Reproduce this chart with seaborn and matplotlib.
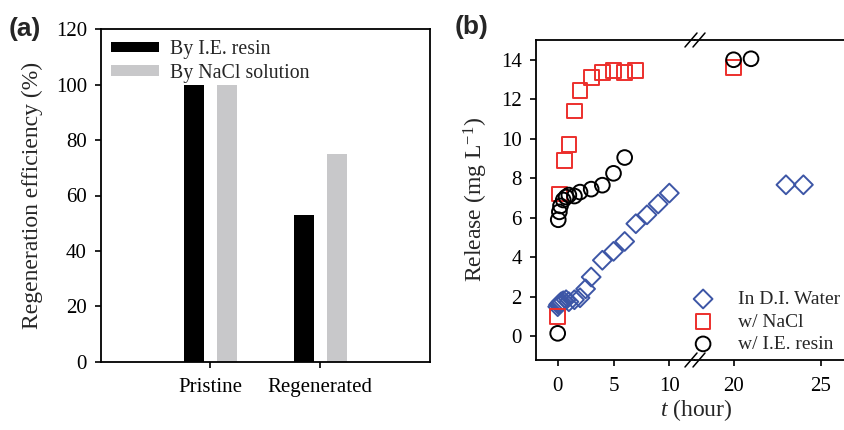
import pandas as pd
import seaborn as sns
import matplotlib.pyplot as plt
from matplotlib.lines import Line2D

# Panel (a): regeneration efficiency
amostras = ['Pristine', 'Regenerated']
por_resina = [100, 53]
por_nacl = [100, 75]
metodos = ['By I.E. resin', 'By NaCl solution']

# Panel (b): release vs time
t_agua = [0, 0.08, 0.17, 0.25, 0.33, 0.5, 0.75, 1, 1.5, 2, 2.5, 3, 4, 5, 6, 7, 8, 9, 10, 23, 24]
y_agua = [1.5, 1.6, 1.65, 1.7, 1.75, 1.8, 1.85, 1.75, 1.85, 1.95, 2.4, 3.0, 3.85, 4.3, 4.8,
          5.7, 6.15, 6.7, 7.25, 7.67, 7.67]
t_nacl = [0, 0.17, 0.6, 1, 1.5, 2, 3, 4, 5, 6, 7, 20]
y_nacl = [1.0, 7.2, 8.9, 9.7, 11.4, 12.45, 13.1, 13.35, 13.45, 13.35, 13.45, 13.6]
t_resina = [0, 0.05, 0.15, 0.25, 0.5, 0.75, 1, 1.5, 2, 3, 4, 5, 6, 20, 21]
y_resina = [0.15, 5.9, 6.3, 6.6, 6.9, 7.05, 7.15, 7.1, 7.3, 7.45, 7.65, 8.25, 9.05, 14.0, 14.05]

VERMELHO = '#ec2f2c'
AZUL = '#3d56a6'
CINZA = '#c8c8ca'

sns.set_theme(style='ticks')
plt.rcParams['font.family'] = ['Liberation Serif', 'DejaVu Serif']
plt.rcParams['mathtext.fontset'] = 'custom'
plt.rcParams['mathtext.rm'] = 'Liberation Serif'
plt.rcParams['mathtext.it'] = 'Liberation Serif:italic'
plt.rcParams['axes.linewidth'] = 1.3
plt.rcParams['axes.edgecolor'] = 'black'

FS = 15
FL = 17
W, H = 845, 430
fig = plt.figure(figsize=(W / 100, H / 100), dpi=100)

def caixa(x0, y0, x1, y1):
    return [x0 / W, 1 - y1 / H, (x1 - x0) / W, (y1 - y0) / H]

# ---------------- (a)
ax_a = fig.add_axes(caixa(100.7, 29.3, 430, 361.7))
df_a = pd.DataFrame({
    'amostra': amostras * 2,
    'metodo': [metodos[0]] * 2 + [metodos[1]] * 2,
    'valor': por_resina + por_nacl,
})
sns.barplot(data=df_a, x='amostra', y='valor', hue='metodo', palette=['black', CINZA],
            width=0.6, gap=0.4, saturation=1, ax=ax_a, linewidth=0)
ax_a.set_xlim(-1, 2)
ax_a.set_ylim(0, 120)
ax_a.set_yticks(range(0, 121, 20))
ax_a.set_xlabel('')
ax_a.set_ylabel('Regeneration efficiency (%)', fontsize=FL)
ax_a.yaxis.set_label_coords(-0.175, 0.5)
for s in ['top', 'right']:
    ax_a.spines[s].set_visible(True)
ax_a.tick_params(direction='out', length=4, width=1.2, labelsize=FS, colors='black')
ax_a.tick_params(axis='x', pad=8)
ax_a.tick_params(axis='y', pad=6)
sns.move_legend(ax_a, 'upper left', bbox_to_anchor=(0.031, 0.968), frameon=False, title=None,
                fontsize=14.3, handlelength=2.4, handleheight=0.45, handletextpad=0.6,
                labelspacing=0.25, borderpad=0, borderaxespad=0)

# ---------------- (b) with broken x axis
ax_b1 = fig.add_axes(caixa(535.7, 40, 695, 360))
ax_b2 = fig.add_axes(caixa(695, 40, 846, 360), sharey=ax_b1)

series = [
    (t_agua, y_agua, 'D', AZUL, 92, 'In D.I. Water'),
    (t_nacl, y_nacl, 's', VERMELHO, 112, 'w/ NaCl'),
    (t_resina, y_resina, 'o', 'black', 112, 'w/ I.E. resin'),
]
for ax in (ax_b1, ax_b2):
    for t, y, m, c, s, lab in series:
        sns.scatterplot(x=t, y=y, marker=m, s=s, facecolor='none', edgecolor=c,
                        linewidth=1.4, ax=ax, label=lab, legend=False)
    ax.set_ylim(-1.2, 15)
    ax.set_xlabel('')
    ax.tick_params(direction='out', length=4, width=1.2, labelsize=FS, colors='black')
    ax.tick_params(axis='x', pad=8)

ax_b1.set_xlim(-1.97, 12.3)
ax_b1.set_xticks([0, 5, 10])
ax_b1.set_yticks(range(0, 15, 2))
ax_b1.spines['right'].set_visible(False)
ax_b1.spines['top'].set_visible(True)
ax_b1.tick_params(axis='y', pad=6)
ax_b1.set_ylabel('Release (mg L$^{-1}$)', fontsize=FL)
ax_b1.yaxis.set_label_coords(-0.29, 0.5)

ax_b2.set_xlim(17.79, 26.44)
ax_b2.set_xticks([20, 25])
ax_b2.spines['left'].set_visible(False)
ax_b2.spines['right'].set_visible(False)
ax_b2.spines['top'].set_visible(True)
ax_b2.tick_params(axis='y', left=False, labelleft=False)
ax_b2.set_ylabel('')

# break marks
for yb in (40, 360):
    for dx in (-4, 4):
        xb = 695 + dx
        fig.add_artist(Line2D([(xb - 6) / W, (xb + 6) / W], [1 - (yb + 7) / H, 1 - (yb - 7) / H],
                              color='black', lw=1.1, transform=fig.transFigure))

handles, labels = ax_b1.get_legend_handles_labels()
fig.legend(handles[:3], labels[:3], loc='lower left', bbox_to_anchor=(688.5 / W, 1 - 353 / H),
           frameon=False, fontsize=14, handlelength=1.5, handletextpad=1.05, labelspacing=0.25,
           borderpad=0, borderaxespad=0, scatterpoints=1)

fig.text(696.7 / W, 1 - 410 / H, '$t$ (hour)', ha='center', va='center', fontsize=FL)

fig.text(9 / W, 1 - 29 / H, '(a)', fontsize=19, fontweight='bold', family='Liberation Sans',
         va='center', ha='left')
fig.text(455 / W, 1 - 27 / H, '(b)', fontsize=19, fontweight='bold', family='Liberation Sans',
         va='center', ha='left')

fig.savefig('out.png', dpi=100)
